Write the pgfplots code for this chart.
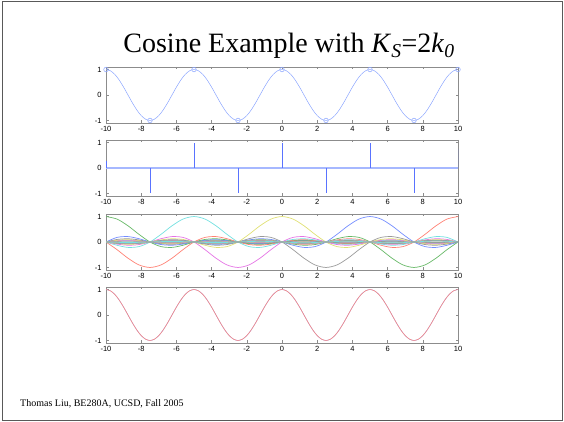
\documentclass[border=0pt]{standalone}
\usepackage{pgfplots}
\pgfplotsset{compat=1.18}
\usepackage{pgfplotstable}
\usepackage{fontspec}
\setmainfont{Liberation Serif}
\newfontfamily\axisfont{Liberation Sans}

% MATLAB-like line colours (as rendered, slightly light)
\definecolor{mblue}{rgb}{0.45,0.55,1}
\definecolor{mgreen}{rgb}{0.4,0.72,0.4}
\definecolor{mred}{rgb}{1,0.5,0.45}
\definecolor{mcyan}{rgb}{0.45,0.88,0.88}
\definecolor{mmag}{rgb}{0.9,0.45,0.9}
\definecolor{myel}{rgb}{0.88,0.88,0.45}
\definecolor{mgray}{rgb}{0.6,0.6,0.6}
\definecolor{cosblue}{rgb}{0.55,0.65,1}
\definecolor{cosred}{rgb}{1,0.55,0.5}
\definecolor{spikeblue}{rgb}{0.35,0.45,1}
\definecolor{baseblue}{rgb}{0.65,0.72,1}
\definecolor{boxgray}{rgb}{0.55,0.55,0.55}

% cos(2*pi*x/5) on a 0.25 grid
\pgfplotstableread{
x c
-10 1
-9.75 0.95106
-9.5 0.80902
-9.25 0.58779
-9 0.30902
-8.75 0
-8.5 -0.30902
-8.25 -0.58779
-8 -0.80902
-7.75 -0.95106
-7.5 -1
-7.25 -0.95106
-7 -0.80902
-6.75 -0.58779
-6.5 -0.30902
-6.25 0
-6 0.30902
-5.75 0.58779
-5.5 0.80902
-5.25 0.95106
-5 1
-4.75 0.95106
-4.5 0.80902
-4.25 0.58779
-4 0.30902
-3.75 0
-3.5 -0.30902
-3.25 -0.58779
-3 -0.80902
-2.75 -0.95106
-2.5 -1
-2.25 -0.95106
-2 -0.80902
-1.75 -0.58779
-1.5 -0.30902
-1.25 0
-1 0.30902
-0.75 0.58779
-0.5 0.80902
-0.25 0.95106
0 1
0.25 0.95106
0.5 0.80902
0.75 0.58779
1 0.30902
1.25 0
1.5 -0.30902
1.75 -0.58779
2 -0.80902
2.25 -0.95106
2.5 -1
2.75 -0.95106
3 -0.80902
3.25 -0.58779
3.5 -0.30902
3.75 0
4 0.30902
4.25 0.58779
4.5 0.80902
4.75 0.95106
5 1
5.25 0.95106
5.5 0.80902
5.75 0.58779
6 0.30902
6.25 0
6.5 -0.30902
6.75 -0.58779
7 -0.80902
7.25 -0.95106
7.5 -1
7.75 -0.95106
8 -0.80902
8.25 -0.58779
8.5 -0.30902
8.75 0
9 0.30902
9.25 0.58779
9.5 0.80902
9.75 0.95106
10 1
}\costab

% sinc(u) = sin(pi u)/(pi u) on a 0.25 grid
\pgfplotstableread{
u s
-16 0
-15.75 -0.01429
-15.5 -0.02054
-15.25 -0.01476
-15 0
-14.75 0.01526
-14.5 0.02195
-14.25 0.01580
-14 0
-13.75 -0.01637
-13.5 -0.02358
-13.25 -0.01699
-13 0
-12.75 0.01765
-12.5 0.02546
-12.25 0.01837
-12 0
-11.75 -0.01916
-11.5 -0.02768
-11.25 -0.02001
-11 0
-10.75 0.02094
-10.5 0.03032
-10.25 0.02196
-10 0
-9.75 -0.02309
-9.5 -0.03351
-9.25 -0.02433
-9 0
-8.75 0.02572
-8.5 0.03745
-8.25 0.02728
-8 0
-7.75 -0.02904
-7.5 -0.04244
-7.25 -0.03105
-7 0
-6.75 0.03335
-6.5 0.04897
-6.25 0.03601
-6 0
-5.75 -0.03914
-5.5 -0.05787
-5.25 -0.04287
-5 0
-4.75 0.04738
-4.5 0.07074
-4.25 0.05296
-4 0
-3.75 -0.06002
-3.5 -0.09095
-3.25 -0.06926
-3 0
-2.75 0.08185
-2.5 0.12732
-2.25 0.10004
-2 0
-1.75 -0.12862
-1.5 -0.21221
-1.25 -0.18006
-1 0
-0.75 0.30011
-0.5 0.63662
-0.25 0.90032
0 1
0.25 0.90032
0.5 0.63662
0.75 0.30011
1 0
1.25 -0.18006
1.5 -0.21221
1.75 -0.12862
2 0
2.25 0.10004
2.5 0.12732
2.75 0.08185
3 0
3.25 -0.06926
3.5 -0.09095
3.75 -0.06002
4 0
4.25 0.05296
4.5 0.07074
4.75 0.04738
5 0
5.25 -0.04287
5.5 -0.05787
5.75 -0.03914
6 0
6.25 0.03601
6.5 0.04897
6.75 0.03335
7 0
7.25 -0.03105
7.5 -0.04244
7.75 -0.02904
8 0
8.25 0.02728
8.5 0.03745
8.75 0.02572
9 0
9.25 -0.02433
9.5 -0.03351
9.75 -0.02309
10 0
10.25 0.02196
10.5 0.03032
10.75 0.02094
11 0
11.25 -0.02001
11.5 -0.02768
11.75 -0.01916
12 0
12.25 0.01837
12.5 0.02546
12.75 0.01765
13 0
13.25 -0.01699
13.5 -0.02358
13.75 -0.01637
14 0
14.25 0.01580
14.5 0.02195
14.75 0.01526
15 0
15.25 -0.01476
15.5 -0.02054
15.75 -0.01429
16 0
}\sinctab

% one interpolation kernel: colour, centre, sample value
\newcommand\sincplot[3]{%
  \addplot[#1, line width=0.7pt, smooth, restrict x to domain=-10.6:10.6]
    table[x expr={#2+2.5*\thisrow{u}}, y expr={#3*\thisrow{s}}] {\sinctab};}

\pgfplotsset{
  panel/.style={
    width=352pt, height=56pt, scale only axis,
    anchor=south west,
    xmin=-10, xmax=10, ymin=-1.1, ymax=1.1,
    xtick={-10,-8,...,10}, ytick={-1,0,1},
    tick align=inside, tick pos=both,
    major tick length=2.5pt,
    axis line style={draw=boxgray, line width=0.6pt},
    tick style={draw=boxgray, line width=0.5pt},
    tick label style={font=\axisfont\fontsize{7.5}{8}\selectfont},
    xticklabel style={yshift=0.5pt},
    yticklabel style={xshift=-1pt},
    /pgf/number format/assume math mode=true,
  }
}

\begin{document}
\begin{tikzpicture}
\path[use as bounding box] (0pt,0pt) rectangle (564pt,422pt);
\draw[draw=black!65, line width=1pt] (2pt,1.5pt) rectangle (562pt,420.5pt);

\node[anchor=base, inner sep=0] at (289pt,369pt)
  {\fontsize{28}{32}\selectfont Cosine Example with
   \textit{K}\textsubscript{\textit{S}}=2\textit{k}\textsubscript{\textit{0}}};

\node[anchor=base west, inner sep=0] at (20pt,15pt)
  {\fontsize{10}{12}\selectfont Thomas Liu, BE280A, UCSD, Fall 2005};

% continuous cosine with its samples
\begin{axis}[panel, at={(106pt,299pt)}]
\addplot[cosblue, line width=0.5pt, smooth] table[x=x, y=c] {\costab};
\addplot[cosblue, only marks, mark=o, mark size=2.3pt, mark options={line width=0.5pt}]
  coordinates {(-10,1) (-7.5,-1) (-5,1) (-2.5,-1) (0,1) (2.5,-1) (5,1) (7.5,-1) (10,1)};
\end{axis}

% sampled sequence
\begin{axis}[panel, at={(106pt,226pt)}]
\addplot[baseblue, line width=1.2pt] coordinates {(-10,0) (10,0)};
\addplot[spikeblue, ycomb, line width=0.7pt]
  coordinates {(-10,0.28) (-7.5,-1) (-5,1) (-2.5,-1) (0,1) (2.5,-1) (5,1) (7.5,-1) (10,0.75)};
\end{axis}

% shifted sinc kernels, one per sample
\begin{axis}[panel, at={(106pt,152pt)}]
\sincplot{mblue}{-30}{1}
\sincplot{mgreen}{-27.5}{-1}
\sincplot{mred}{-25}{1}
\sincplot{mcyan}{-22.5}{-1}
\sincplot{mmag}{-20}{1}
\sincplot{myel}{-17.5}{-1}
\sincplot{mgray}{-15}{1}
\sincplot{mblue}{-12.5}{-1}
\sincplot{mgreen}{-10}{1}
\sincplot{mred}{-7.5}{-1}
\sincplot{mcyan}{-5}{1}
\sincplot{mmag}{-2.5}{-1}
\sincplot{myel}{0}{1}
\sincplot{mgray}{2.5}{-1}
\sincplot{mblue}{5}{1}
\sincplot{mgreen}{7.5}{-1}
\sincplot{mred}{10}{1}
\sincplot{mcyan}{12.5}{-1}
\sincplot{mmag}{15}{1}
\sincplot{myel}{17.5}{-1}
\sincplot{mgray}{20}{1}
\sincplot{mblue}{22.5}{-1}
\sincplot{mgreen}{25}{1}
\sincplot{mred}{27.5}{-1}
\sincplot{mcyan}{30}{1}
\end{axis}

% reconstruction over the original
\begin{axis}[panel, at={(106pt,79pt)}]
\addplot[mblue, line width=0.45pt, smooth] table[x=x, y=c] {\costab};
\addplot[cosred, line width=0.6pt, smooth] table[x=x, y=c] {\costab};
\end{axis}
\end{tikzpicture}
\end{document}
